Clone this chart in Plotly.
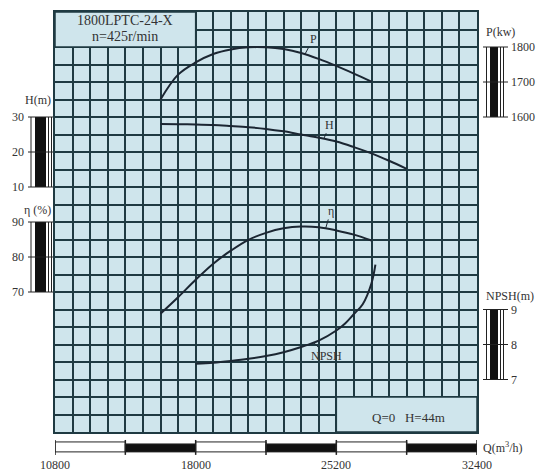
import plotly.graph_objects as go

# ---------------- data ----------------
Q_P = [16200, 17100, 18000, 18900, 19800, 20700, 21600, 22500, 23400, 24300, 25200, 26100, 27000]
P_vals = [1650, 1721, 1756, 1780, 1793, 1799, 1799, 1794, 1783, 1766, 1746, 1724, 1701]

Q_H = [16200, 17100, 18000, 18900, 19800, 20700, 21600, 22500, 23400, 24300, 25200, 26100, 27000, 27900, 28800]
H_vals = [28.0, 27.95, 27.85, 27.75, 27.45, 27.1, 26.6, 25.9, 25.0, 24.1, 23.0, 21.4, 19.6, 17.5, 15.2]

Q_eta = [16200, 17100, 18000, 18900, 19800, 20700, 21600, 22500, 23400, 24300, 25200, 26100, 27000]
eta_vals = [63.8, 68.5, 73.5, 78.1, 81.8, 84.9, 86.9, 88.2, 88.7, 88.5, 87.6, 86.4, 84.7]

Q_NPSH = [18000, 18900, 19800, 20700, 21600, 22500, 23400, 24300, 25200, 25650, 26100, 26550, 27000, 27200]
NPSH_vals = [7.45, 7.48, 7.53, 7.59, 7.67, 7.78, 7.93, 8.11, 8.40, 8.60, 8.87, 9.15, 9.75, 10.28]

Q_ticks = [10800, 18000, 25200, 32400]
Q_segments = [10800, 14400, 18000, 21600, 25200, 28800, 32400]
H_ticks = [10, 20, 30]
eta_ticks = [70, 80, 90]
P_ticks = [1600, 1700, 1800]
NPSH_ticks = [7, 8, 9]

title_lines = ["1800LPTC-24-X", "n=425r/min"]
note_text = "Q=0&nbsp;&nbsp;&nbsp;H=44m"

# ---------------- style ----------------
W, H = 550, 472
ML, MR, MT, MB = 55, 73, 10, 40
PW = W - ML - MR
PH = H - MT - MB
BG = "#cfe5ec"
GRID = "#1f3a42"
CURVE = "#1b2632"
TXT = "#333333"
FONT = "Liberation Serif"


def px2paper_x(px):
    return (px - ML) / PW


def px2paper_y(py):
    return (H - MB - py) / PH


fig = go.Figure()
fig.add_trace(go.Scatter(x=Q_H, y=H_vals, yaxis="y", mode="lines",
                         line=dict(color=CURVE, width=2, shape="spline"), hoverinfo="skip"))
fig.add_trace(go.Scatter(x=Q_eta, y=eta_vals, yaxis="y2", mode="lines",
                         line=dict(color=CURVE, width=2, shape="spline"), hoverinfo="skip"))
fig.add_trace(go.Scatter(x=Q_P, y=P_vals, yaxis="y3", mode="lines",
                         line=dict(color=CURVE, width=2, shape="spline"), hoverinfo="skip"))
fig.add_trace(go.Scatter(x=Q_NPSH, y=NPSH_vals, yaxis="y4", mode="lines",
                         line=dict(color=CURVE, width=2, shape="spline"), hoverinfo="skip"))

shapes = []
annotations = []

# boxes covering the grid
shapes.append(dict(type="rect", xref="x", yref="y", x0=10800, x1=18000, y0=50, y1=60,
                   fillcolor=BG, line=dict(color=GRID, width=1.5), layer="above"))
shapes.append(dict(type="rect", xref="x", yref="y", x0=25200, x1=32400, y0=-60, y1=-50,
                   fillcolor=BG, line=dict(color=GRID, width=1.5), layer="above"))

for i, t in enumerate(title_lines):
    annotations.append(dict(xref="x", yref="paper", x=14400, y=px2paper_y(19 + 16 * i),
                            text=t, showarrow=False, xanchor="center", yanchor="middle",
                            font=dict(family=FONT, size=14, color=TXT)))
annotations.append(dict(xref="x", yref="paper", x=28900, y=px2paper_y(417), text=note_text,
                        showarrow=False, xanchor="center", yanchor="middle",
                        font=dict(family=FONT, size=13, color=TXT)))


def vbar(yref, ticks, label, side, label_shift):
    lo, hi = min(ticks), max(ticks)
    if side == "left":
        a, b0, b1, c, d, t0, t1 = 31, 35, 46, 48.5, 51.5, 28, 53
    else:
        a, b0, b1, c, d, t0, t1 = 486.5, 490, 498, 500.5, 503.5, 483, 508
    for xx in (a, c, d):
        shapes.append(dict(type="line", xref="paper", yref=yref, x0=px2paper_x(xx), x1=px2paper_x(xx),
                           y0=lo, y1=hi, line=dict(color="#222", width=1)))
    shapes.append(dict(type="rect", xref="paper", yref=yref, x0=px2paper_x(b0), x1=px2paper_x(b1),
                       y0=lo, y1=hi, fillcolor="#111", line=dict(width=0)))
    for tv in ticks:
        shapes.append(dict(type="line", xref="paper", yref=yref, x0=px2paper_x(t0), x1=px2paper_x(t1),
                           y0=tv, y1=tv, line=dict(color="#222", width=1)))
        if side == "left":
            annotations.append(dict(xref="paper", yref=yref, x=px2paper_x(26), y=tv, text=str(tv),
                                    xanchor="right", yanchor="middle", showarrow=False,
                                    font=dict(family=FONT, size=12, color=TXT)))
        else:
            annotations.append(dict(xref="paper", yref=yref, x=px2paper_x(509), y=tv, text=str(tv),
                                    xanchor="left", yanchor="middle", showarrow=False,
                                    font=dict(family=FONT, size=12, color=TXT)))
    if side == "left":
        annotations.append(dict(xref="paper", yref=yref, x=px2paper_x(53), y=hi, yshift=label_shift,
                                text=label, xanchor="right", yanchor="middle", showarrow=False,
                                font=dict(family=FONT, size=12, color=TXT)))
    else:
        annotations.append(dict(xref="paper", yref=yref, x=px2paper_x(484), y=hi, yshift=label_shift,
                                text=label, xanchor="left", yanchor="middle", showarrow=False,
                                font=dict(family=FONT, size=12, color=TXT)))


vbar("y", H_ticks, "H(m)", "left", 17)
vbar("y2", eta_ticks, "η (%)", "left", 12)
vbar("y3", P_ticks, "P(kw)", "right", 15)
vbar("y4", NPSH_ticks, "NPSH(m)", "right", 14)

# horizontal Q scale bar
yb0, yb1 = px2paper_y(442), px2paper_y(452)
for i in range(len(Q_segments) - 1):
    filled = i % 2 == 1
    shapes.append(dict(type="rect", xref="x", yref="paper", x0=Q_segments[i], x1=Q_segments[i + 1],
                       y0=yb1, y1=yb0 if not filled else px2paper_y(444),
                       fillcolor="#111" if filled else "white", line=dict(color="#222", width=1)))
for q in Q_segments:
    shapes.append(dict(type="line", xref="x", yref="paper", x0=q, x1=q,
                       y0=px2paper_y(440), y1=px2paper_y(455), line=dict(color="#222", width=1.5)))
for q in Q_ticks:
    annotations.append(dict(xref="x", yref="paper", x=q, y=px2paper_y(465), text=str(q),
                            showarrow=False, xanchor="center", yanchor="middle",
                            font=dict(family=FONT, size=12, color=TXT)))
annotations.append(dict(xref="paper", yref="paper", x=px2paper_x(481), y=px2paper_y(448),
                        text="Q(m<sup>3</sup>/h)", xanchor="left", yanchor="middle", showarrow=False,
                        font=dict(family=FONT, size=12, color=TXT)))

# curve labels with leaders
curve_labels = [
    ("P", 23600, 1780, "x", "y3", 8, -15),
    ("H", 24560, 23.8, "x", "y", 6, -14),
    ("η", 24660, 88.3, "x", "y2", 5, -17),
    ("NPSH", 24050, 8.05, "x", "y4", 13, 13),
]
for txt, qx, vy, xr, yr, ax, ay in curve_labels:
    annotations.append(dict(xref=xr, yref=yr, x=qx, y=vy, text=txt, showarrow=True,
                            arrowhead=0, arrowwidth=1, arrowcolor=CURVE, ax=ax, ay=ay,
                            font=dict(family=FONT, size=12, color=TXT)))

axis_common = dict(showgrid=True, gridcolor=GRID, gridwidth=1.5, showticklabels=False, ticks="",
                   showline=True, mirror=True, linecolor=GRID, linewidth=1.5, zeroline=False,
                   fixedrange=True)

fig.update_layout(
    width=W, height=H,
    margin=dict(l=ML, r=MR, t=MT, b=MB),
    paper_bgcolor="white", plot_bgcolor=BG,
    showlegend=False,
    xaxis=dict(range=[10800, 32400], tick0=10800, dtick=900, **axis_common),
    yaxis=dict(range=[-60, 60], tick0=0, dtick=5, **axis_common),
    yaxis2=dict(range=[30, 150], overlaying="y", visible=False, fixedrange=True),
    yaxis3=dict(range=[700, 1900], overlaying="y", visible=False, fixedrange=True),
    yaxis4=dict(range=[5.5, 17.5], overlaying="y", visible=False, fixedrange=True),
    shapes=shapes,
    annotations=annotations,
)

fig.write_html("out.html", config={"displayModeBar": False},
               post_script="document.body.style.margin='0';document.body.style.overflow='hidden';")
